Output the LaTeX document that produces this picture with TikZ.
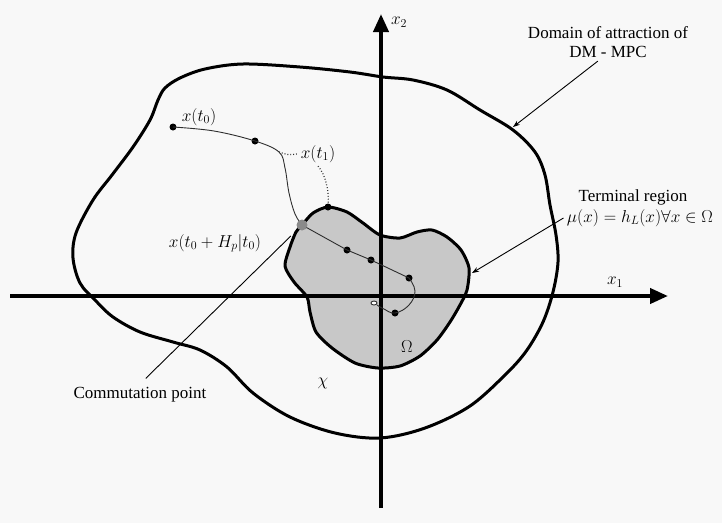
\documentclass[tikz,border=0pt]{standalone}
\usepackage{amsmath,amssymb}
\usepackage{fontspec}
\setmainfont{Liberation Serif}
\usepackage{tikz}
\usetikzlibrary{arrows.meta}
\definecolor{termgrey}{HTML}{C8C8C8}
\definecolor{pointgrey}{HTML}{8A8A8A}
\definecolor{trajgrey}{HTML}{2E2E2E}
\definecolor{paperwhite}{HTML}{F8F8F8}

\begin{document}
\begin{tikzpicture}[x=1pt, y=-1pt, font=\fontsize{17}{19}\selectfont,
  dot/.style={circle, fill=black, inner sep=0pt, minimum size=7pt},
  traj/.style={trajgrey, line width=0.9pt},
  pointer/.style={-{Stealth[length=7pt,width=5pt]}, line width=0.9pt},
  axis/.style={line width=4pt, -{Triangle[length=18pt,width=15pt]}}]
  \fill[paperwhite] (0,0) rectangle (722,523);
  \useasboundingbox (0,0) rectangle (722,523);

  % terminal region Omega
  \filldraw[fill=termgrey, line width=3pt, line join=round] plot[smooth cycle, tension=0.45] coordinates {
    (302,225) (313,213) (328,207) (347,212) (363,223) (380,235) (400,238) (417,232)
    (432,230) (447,237) (461,250) (469,268) (467,290) (460,305) (450,322) (437,340)
    (420,356) (400,366) (378,368) (355,363) (332,348) (316,332) (310,312) (307,297)
    (294,282) (285,266) (290,247) (296,232)};

  % domain of attraction
  \draw[line width=3pt, line join=round] plot[smooth cycle, tension=0.55] coordinates {
    (165,88) (180,78) (205,69) (243,64) (300,67) (350,72) (383,77) (413,80) (447,90)
    (480,110) (513,130) (535,152) (545,175) (550,205) (556,235) (558,262) (553,292)
    (543,322) (527,350) (507,373) (470,406) (425,428) (380,438) (335,433) (290,417)
    (253,393) (227,367) (200,350) (173,342) (140,332) (113,317) (95,300) (80,283)
    (73,258) (76,233) (93,200) (112,175) (133,147) (150,120) (158,100)};

  % axes
  \coordinate (xstart) at (10,296);
  \coordinate (xend) at (668,296);
  \coordinate (ystart) at (381,508);
  \coordinate (yend) at (381,14);
  \draw[axis] (xstart) -- (xend);
  \draw[axis] (ystart) -- (yend);
  \node (xone) at (615,282) {$x_1$};
  \node (xtwo) at (399,22) {$x_2$};

  % trajectory
  \node[dot] (p0) at (173,127) {};
  \node[dot] (p1) at (255,141) {};
  \node[dot] (vt) at (328,207) {};
  \node[dot] (q1) at (347,250) {};
  \node[dot] (q2) at (371,260) {};
  \node[dot] (q3) at (409,278) {};
  \node[dot] (q4) at (395,313) {};
  \coordinate (br) at (279,152);
  \coordinate (loop) at (374,303);
  \draw[traj] plot[smooth, tension=0.6] coordinates {(p0.center) (214,131) (p1.center) (br) (285,168) (289,193) (295,214) (302,225)};
  \draw[traj] (302,225) -- (q1.center) -- (q2.center) -- (q3.center);
  \draw[traj] plot[smooth, tension=0.7] coordinates {(q3.center) (415,291) (409,305) (q4.center) (384,309) (377,305)};
  \draw[traj, fill=white] (loop) ellipse (3pt and 2pt);
  \node[circle, fill=pointgrey, inner sep=0pt, minimum size=11pt] (cp) at (302,225) {};

  \node (xt0) at (199,117) {$x(t_0)$};
  \node (xt1) at (318,154) {$x(t_1)$};
  \draw[traj, dotted, line width=1.2pt] (br) .. controls (288,155) .. (xt1.west);
  \draw[traj, dotted, line width=1.2pt] (xt1.south) .. controls (326,175) and (329,192) .. (vt);

  \node (xhp) at (215,243) {$x(t_0+H_p|t_0)$};
  \node (chi) at (323,383) {$\chi$};
  \node (omega) at (407,347) {$\Omega$};

  % labels with pointers
  \node (comm) at (140,395) {Commutation point};
  \draw[line width=0.9pt, shorten <=8pt, shorten >=10pt] (comm.north) -- (cp);

  \node[align=center] (dom) at (608,42) {Domain of attraction of\\DM - MPC};
  \coordinate (domtip) at (513,127);
  \draw[pointer] (dom.242) -- (domtip);

  \node (term) at (633,197) {Terminal region};
  \node (termlaw) at (640,218) {$\mu(x)=h_L(x)\forall x\in\Omega$};
  \coordinate (termtip) at (472,273);
  \draw[pointer] (termlaw.west) -- (termtip);
\end{tikzpicture}
\end{document}
